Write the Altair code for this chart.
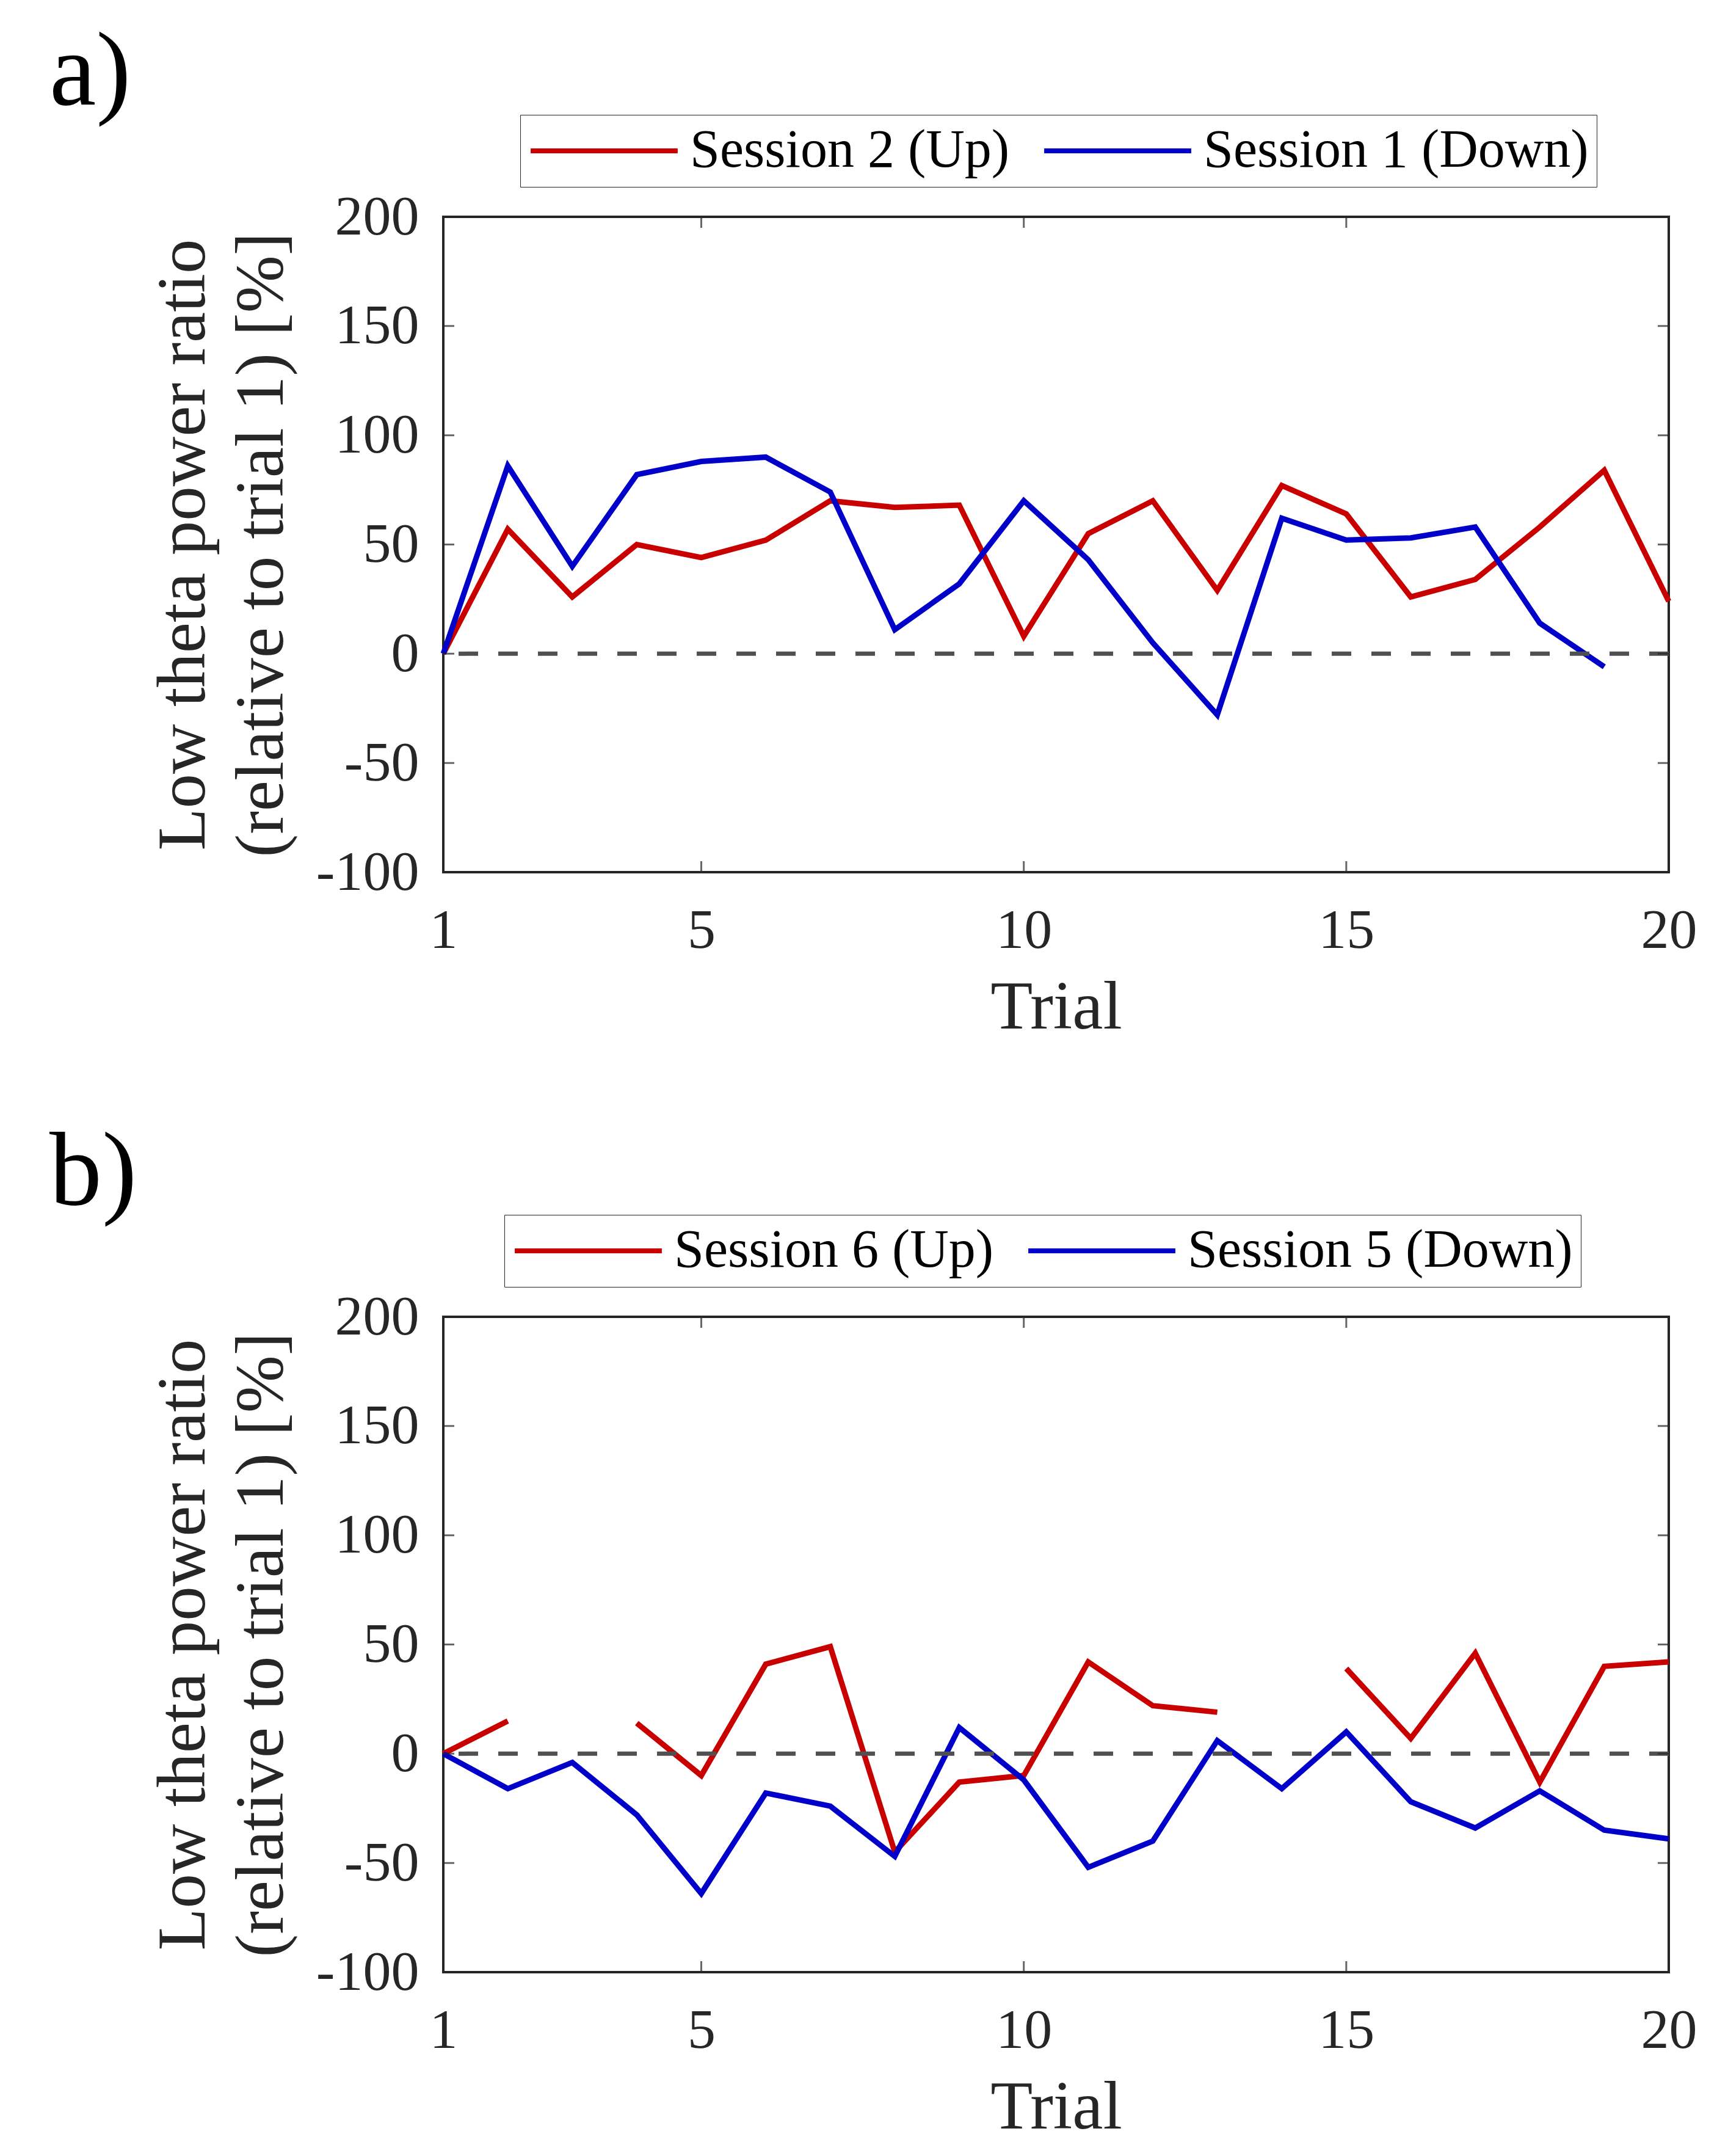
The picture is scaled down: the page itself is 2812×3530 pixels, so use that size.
import altair as alt
import pandas as pd

SERIF = "Liberation Serif"
INK = "#262626"
RED = "#C80000"
BLUE = "#0000C8"

trials = list(range(1, 21))
x_ticks = [1, 5, 10, 15, 20]
y_ticks = [-100, -50, 0, 50, 100, 150, 200]

# panel a
up_a = [0, 57, 26, 50, 44, 52, 70, 67, 68, 8, 55, 70, 29, 77, 64, 26, 34, 58, 84, 24]
down_a = [0, 86, 40, 82, 88, 90, 74, 11, 32, 70, 43, 5, -28, 62, 52, 53, 58, 14, -6, None]
# panel b (gaps at trials 3 and 14 of the red series)
up_b = [0, 15, None, 14, -10, 41, 49, -45, -13, -10, 42, 22, 19, None, 39, 7, 46, -13, 40, 42]
down_b = [0, -16, -4, -28, -64, -18, -24, -47, 12, -12, -52, -40, 6, -16, 10, -22, -34, -17, -35, -39]


def panel(up, down, up_name, down_name, tag, legend_x):
    df = pd.DataFrame({
        "trial": trials * 2,
        "value": up + down,
        "session": [up_name] * 20 + [down_name] * 20,
    })
    x = alt.X("trial:Q", scale=alt.Scale(domain=[1, 20], nice=False, zero=False),
              axis=alt.Axis(values=x_ticks, title="Trial", labelExpr="datum.value + ''",
                            labelFlush=False, labelPadding=50, titlePadding=25))
    y = alt.Y("value:Q", scale=alt.Scale(domain=[-100, 200], nice=False),
              axis=alt.Axis(values=y_ticks, labelExpr="datum.value + ''",
                            labelPadding=40, titlePadding=40,
                            title=["Low theta power ratio", "(relative to trial 1) [%]"]))
    color = alt.Color(
        "session:N",
        scale=alt.Scale(domain=[up_name, down_name], range=[RED, BLUE]),
        legend=alt.Legend(title=None, orient="none", legendX=legend_x, legendY=-167,
                          direction="horizontal", symbolType="stroke", symbolSize=58000,
                          symbolStrokeWidth=8, clipHeight=92, labelFontSize=88,
                          labelFont=SERIF, labelColor="black", labelLimit=0,
                          labelOffset=16, columnPadding=52,
                          strokeColor=INK, fillColor="white", padding=13),
    )
    lines = alt.Chart(df).mark_line(strokeWidth=9).encode(x=x, y=y, color=color)
    zero = alt.Chart(pd.DataFrame({"value": [0]})).mark_rule(
        color="#505050", strokeWidth=7, strokeDash=[32, 33]
    ).encode(y="value:Q")
    xt = pd.DataFrame([(t, e) for t in x_ticks for e in (-100, 200)], columns=["trial", "value"])
    yt = pd.DataFrame([(e, v) for v in y_ticks for e in (1, 20)], columns=["trial", "value"])
    xtick = alt.Chart(xt).mark_tick(orient="vertical", size=36, thickness=3, clip=True,
                                    color=INK).encode(x="trial:Q", y="value:Q")
    ytick = alt.Chart(yt).mark_tick(orient="horizontal", size=36, thickness=3, clip=True,
                                    color=INK).encode(x="trial:Q", y="value:Q")
    return alt.layer(lines, zero, xtick, ytick).properties(
        width=2007, height=1073,
        title=alt.Title(tag, anchor="start", frame="group", dx=-645, fontSize=172,
                        font=SERIF, fontWeight="normal", color="black", offset=-19),
    )


chart = alt.vconcat(
    panel(up_a, down_a, "Session 2 (Up)", "Session 1 (Down)", "a)", 126),
    panel(up_b, down_b, "Session 6 (Up)", "Session 5 (Down)", "b)", 100),
    spacing=123,
).resolve_scale(
    color="independent"
).resolve_legend(
    color="independent"
).properties(
    padding={"left": 71, "top": 22, "right": 10, "bottom": 10},
    background="white",
).configure_view(
    stroke=INK, strokeWidth=4
).configure_axis(
    domain=False, ticks=False, grid=False, labelLimit=0,
    labelFont=SERIF, labelFontSize=92, labelColor=INK,
    titleFont=SERIF, titleFontSize=113, titleFontWeight="normal", titleColor=INK,
    titleLineHeight=128,
)

chart.save("out.html", embed_options={"renderer": "svg", "actions": False})
